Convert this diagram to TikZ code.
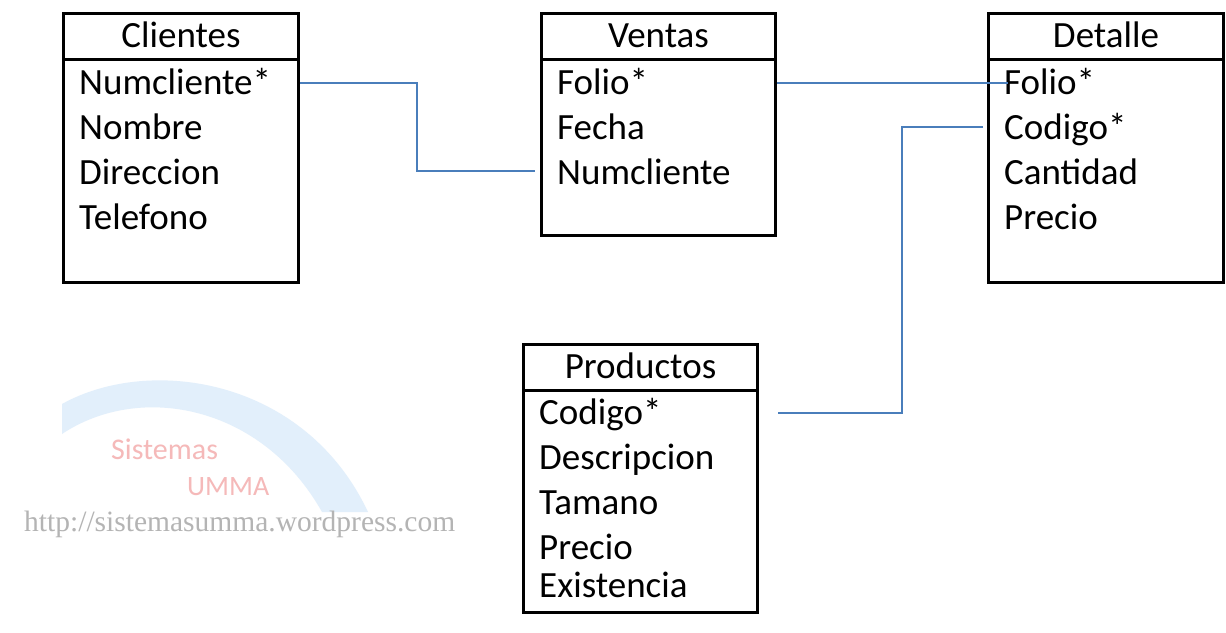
\documentclass[tikz,border=0pt]{standalone}
\usepackage{fontspec}
\setmainfont{Carlito}
\newfontfamily\urlfont{Liberation Serif}
\definecolor{conncol}{RGB}{74,126,187}
\definecolor{arccol}{RGB}{226,239,251}
\definecolor{pinkcol}{RGB}{245,185,185}
\definecolor{urlcol}{RGB}{180,180,180}
\begin{document}
\begin{tikzpicture}[x=1pt,y=-1pt,
  tbl/.style={draw=black,line width=3pt,minimum width=#1,inner sep=0pt},
  hdr/.style={anchor=base,inner sep=0pt,font=\fontsize{37}{40}\selectfont},
  row/.style={anchor=base west,inner sep=0pt,font=\fontsize{37}{40}\selectfont},
  conn/.style={draw=conncol,line width=1.8pt}]
\useasboundingbox (0,0) rectangle (1226,632);
\fill[white] (0,0) rectangle (1226,632);
% watermark
\fill[arccol] (62,404) .. controls (150,355) and (305,378) .. (368,512)
  -- (322,512) .. controls (262,405) and (140,382) .. (62,434) -- cycle;
\node[inner sep=0pt,anchor=base west,text=pinkcol,font=\fontsize{30}{32}\selectfont] (wm1) at (111,459) {Sistemas};
\node[inner sep=0pt,anchor=base west,text=pinkcol,font=\fontsize{28}{30}\selectfont] (wm2) at (187,495) {UMMA};
\node[inner sep=0pt,anchor=base west,text=urlcol,font=\urlfont\fontsize{29.5}{31}\selectfont] (wm3) at (24,531) {http://sistemasumma.wordpress.com};
% boxes
\draw[line width=3pt] (63.5,13.5) rectangle (298.5,282.5); \draw[line width=3pt] (63.5,59) -- (298.5,59);
\node[inner sep=0pt,minimum width=235,minimum height=269] (cli) at (181,148) {};
\draw[line width=3pt] (541.5,13.5) rectangle (775.5,235.5); \draw[line width=3pt] (541.5,59) -- (775.5,59);
\node[inner sep=0pt,minimum width=234,minimum height=222] (ven) at (658.5,124.5) {};
\draw[line width=3pt] (988.5,13.5) rectangle (1223.5,282.5); \draw[line width=3pt] (988.5,59) -- (1223.5,59);
\node[inner sep=0pt,minimum width=235,minimum height=269] (det) at (1106,148) {};
\draw[line width=3pt] (523.5,344.5) rectangle (757.5,612.5); \draw[line width=3pt] (523.5,390) -- (757.5,390);
\node[inner sep=0pt,minimum width=234,minimum height=268] (pro) at (640.5,478.5) {};
% headers
\node[hdr] (cliH) at (181,47) {Clientes};
\node[hdr] (venH) at (658.5,47) {Ventas};
\node[hdr] (detH) at (1106,47) {Detalle};
\node[hdr] (proH) at (640.5,378) {Productos};
% rows
\node[row] (cli1) at (79,94) {Numcliente*};
\node[row] (cli2) at (79,139) {Nombre};
\node[row] (cli3) at (79,184) {Direccion};
\node[row] (cli4) at (79,229) {Telefono};
\node[row] (ven1) at (557,94) {Folio*};
\node[row] (ven2) at (557,139) {Fecha};
\node[row] (ven3) at (557,184) {Numcliente};
\node[row] (det1) at (1004,94) {Folio*};
\node[row] (det2) at (1004,139) {Codigo*};
\node[row] (det3) at (1004,184) {Cantidad};
\node[row] (det4) at (1004,229) {Precio};
\node[row] (pro1) at (539,424) {Codigo*};
\node[row] (pro2) at (539,469) {Descripcion};
\node[row] (pro3) at (539,514) {Tamano};
\node[row] (pro4) at (539,559) {Precio};
\node[row] (pro5) at (539,597) {Existencia};
% connectors
\coordinate (c1a) at (300,83);
\coordinate (c1b) at (535,171);
\draw[conn] (c1a) -- (417,83) |- (c1b);
\coordinate (c2a) at (777,83);
\coordinate (c2b) at (1008,83);
\draw[conn] (c2a) -- (c2b);
\coordinate (c3a) at (983,127);
\coordinate (c3b) at (778,413);
\draw[conn] (c3a) -- (902,127) |- (c3b);
\end{tikzpicture}
\end{document}
